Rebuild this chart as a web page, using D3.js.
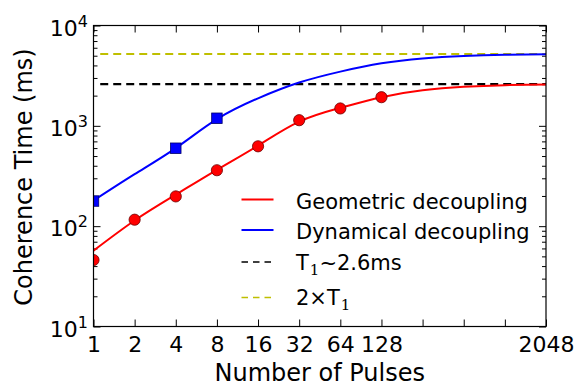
<!DOCTYPE html>
<html><head><meta charset="utf-8">
<script src="https://cdn.jsdelivr.net/npm/d3@7"></script>
<style>
body{margin:0;background:#fff}
svg{display:block}
text{font-family:"DejaVu Sans",sans-serif;fill:#000}
</style>
</head><body>
<svg id="chart" width="577" height="385"></svg>
<script>
// ---------- data ----------
const pulses       = [1, 2, 4, 8, 16, 32, 64, 128, 256, 512, 1024, 2048];
const xTickLabels  = ["1","2","4","8","16","32","64","128","","","","2048"];
const geoFitT      = [57, 114, 206, 364, 635, 1100, 1510, 1930, 2260, 2450, 2545, 2585];
const dynFitT      = [180, 330, 600, 1165, 1880, 2700, 3470, 4200, 4690, 4960, 5100, 5160];
const geoPointsN   = [1, 2, 4, 8, 16, 32, 64, 128];
const geoPointsT   = [46, 116, 198, 361, 625, 1138, 1490, 1930];
const dynPointsN   = [1, 4, 8];
const dynPointsT   = [178, 598, 1190];
const T1           = 2600;
const T1x2         = 2 * T1;
const hlineStartN  = 1.12;
const yMajorTicks  = [10, 100, 1000, 10000];
const yTickExp     = ["1", "2", "3", "4"];
const legendNames  = ["Geometric decoupling", "Dynamical decoupling", "T1~2.6ms", "2×T1"];

// ---------- layout ----------
const L = 93.5, R = 546, T = 25.5, B = 326.5;
const svg = d3.select("#chart");
const x = d3.scaleLog().base(2).domain([1, 2048]).range([L, R]);
const y = d3.scaleLog().domain([10, 10000]).range([B, T]);

const red = "#ff0000", blue = "#0000ff", black = "#000000", olive = "#bfbf00";

svg.append("defs").append("clipPath").attr("id", "plot")
  .append("rect").attr("x", L).attr("y", T).attr("width", R - L).attr("height", B - T);

const minorTicks = [];
[10, 100, 1000].forEach(d => { for (let k = 2; k <= 9; k++) minorTicks.push(d * k); });

// ---------- axes / ticks ----------
function styleAxis(g) { g.select(".domain").remove(); g.selectAll("line").attr("stroke", "#000").attr("stroke-width", 1); }

svg.append("g").attr("transform", `translate(0,${B})`)
  .call(d3.axisBottom(x).tickValues(pulses).tickSize(-7).tickPadding(10).tickFormat((d, i) => xTickLabels[i]))
  .call(styleAxis)
  .call(g => g.selectAll("text").attr("font-size", 22).attr("font-family", "DejaVu Sans"));

svg.append("g").attr("transform", `translate(0,${T})`)
  .call(d3.axisTop(x).tickValues(pulses).tickSize(-7).tickFormat(""))
  .call(styleAxis);

svg.append("g").attr("transform", `translate(${L},0)`)
  .call(d3.axisLeft(y).tickValues(yMajorTicks).tickSize(-7).tickFormat(""))
  .call(styleAxis);
svg.append("g").attr("transform", `translate(${L},0)`)
  .call(d3.axisLeft(y).tickValues(minorTicks).tickSize(-4).tickFormat(""))
  .call(styleAxis);
svg.append("g").attr("transform", `translate(${R},0)`)
  .call(d3.axisRight(y).tickValues(yMajorTicks).tickSize(-7).tickFormat(""))
  .call(styleAxis);
svg.append("g").attr("transform", `translate(${R},0)`)
  .call(d3.axisRight(y).tickValues(minorTicks).tickSize(-4).tickFormat(""))
  .call(styleAxis);

// y tick labels 10^n
const yl = svg.append("g").selectAll("text").data(yMajorTicks).join("text")
  .attr("x", L - 5.5).attr("y", d => y(d) + 10).attr("text-anchor", "end");
yl.append("tspan").attr("font-size", 22).text("10");
yl.append("tspan").attr("font-size", 16).attr("dy", -9).text((d, i) => yTickExp[i]);

// axis labels
svg.append("text").attr("x", (L + R) / 2).attr("y", 380.5).attr("text-anchor", "middle")
  .attr("font-size", 24).text("Number of Pulses");
svg.append("text").attr("transform", `translate(32,${(T + B) / 2 + 1}) rotate(-90)`)
  .attr("text-anchor", "middle").attr("font-size", 24).text("Coherence Time (ms)");

// ---------- data marks ----------
const plot = svg.append("g").attr("clip-path", "url(#plot)");
const hline = d3.line().x(d => x(d[0])).y(d => y(d[1]));
const fit = d3.line().x(d => x(d[0])).y(d => y(d[1])).curve(d3.curveNatural);

plot.append("path").datum([[hlineStartN, T1x2], [2048, T1x2]]).attr("d", hline)
  .attr("fill", "none").attr("stroke", olive).attr("stroke-width", 2.2).attr("stroke-dasharray", "8,5");
plot.append("path").datum([[hlineStartN, T1], [2048, T1]]).attr("d", hline)
  .attr("fill", "none").attr("stroke", black).attr("stroke-width", 2.2).attr("stroke-dasharray", "8,5");

plot.append("path").datum(pulses.map((n, i) => [n, dynFitT[i]])).attr("d", fit)
  .attr("fill", "none").attr("stroke", blue).attr("stroke-width", 2);
plot.append("path").datum(pulses.map((n, i) => [n, geoFitT[i]])).attr("d", fit)
  .attr("fill", "none").attr("stroke", red).attr("stroke-width", 2);

plot.selectAll("circle.geo").data(geoPointsN.map((n, i) => [n, geoPointsT[i]])).join("circle")
  .attr("class", "geo").attr("cx", d => x(d[0])).attr("cy", d => y(d[1])).attr("r", 5.6)
  .attr("fill", red).attr("stroke", "#6a0000").attr("stroke-width", 0.8);
const sq = 10.5;
plot.selectAll("rect.dyn").data(dynPointsN.map((n, i) => [n, dynPointsT[i]])).join("rect")
  .attr("class", "dyn").attr("x", d => x(d[0]) - sq / 2).attr("y", d => y(d[1]) - sq / 2)
  .attr("width", sq).attr("height", sq)
  .attr("fill", blue).attr("stroke", "#00006a").attr("stroke-width", 0.8);

// frame
svg.append("rect").attr("x", L).attr("y", T).attr("width", R - L).attr("height", B - T)
  .attr("fill", "none").attr("stroke", "#000").attr("stroke-width", 1.2);

// ---------- legend ----------
const legendRowY = [199.5, 230, 262, 297.5];
const legendBaseOff = [9, 8.5, 8.3, 7.8];
const legendColors = [red, blue, black, olive];
const legendDash = [null, null, "6.5,5", "6.5,5"];
const lg = svg.append("g");
legendNames.forEach((name, i) => {
  lg.append("line").attr("x1", 241.5).attr("x2", 273.5).attr("y1", legendRowY[i]).attr("y2", legendRowY[i])
    .attr("stroke", legendColors[i]).attr("stroke-width", i < 2 ? 2 : 1.6)
    .attr("stroke-dasharray", legendDash[i]);
  const t = lg.append("text").attr("x", 296).attr("y", legendRowY[i] + legendBaseOff[i]).attr("font-size", 21);
  if (name.includes("T1")) {
    const parts = name.split("T1");
    if (parts[0]) t.append("tspan").text(parts[0]);
    t.append("tspan").text("T");
    t.append("tspan").attr("font-size", 15).attr("font-family", "DejaVu Serif").attr("dy", 5).attr("dx", 1).text("1");
    if (parts[1]) t.append("tspan").attr("dy", -5).text(parts[1]);
  } else {
    t.text(name);
  }
});
</script>
</body></html>
